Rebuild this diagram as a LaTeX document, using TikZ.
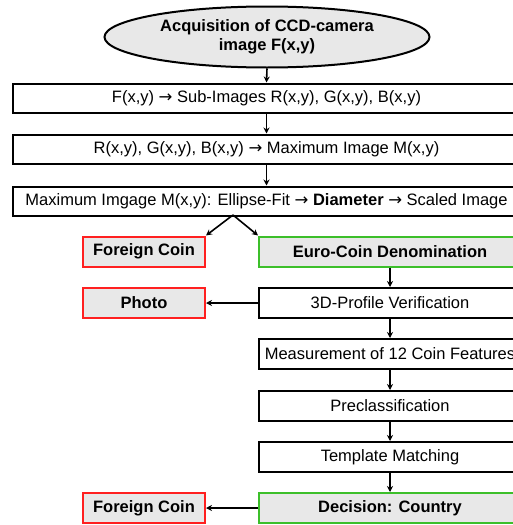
\documentclass[tikz,border=0pt]{standalone}
\usepackage{fontspec}
\setmainfont{Liberation Sans}
\newfontfamily\arrfont{DejaVu Sans}
\newcommand{\rarr}{{\arrfont\char"2192}}
\usetikzlibrary{shapes.geometric,arrows.meta}
\definecolor{boxgrey}{HTML}{E8E8E8}
\definecolor{redb}{HTML}{FF2020}
\definecolor{greenb}{HTML}{3CBF2A}
\begin{document}
\begin{tikzpicture}[x=1pt,y=-1pt,
  every node/.style={font=\fontsize{16.5}{19}\selectfont, inner sep=0pt, text=black},
  wide/.style={draw=black, line width=2pt, fill=white, minimum width=507pt, minimum height=29pt},
  plain/.style={draw=black, line width=2pt, fill=white, minimum width=262pt, minimum height=30pt},
  good/.style={draw=greenb, line width=2pt, fill=boxgrey, minimum width=262pt, minimum height=30pt, font=\fontsize{16.5}{19}\selectfont\bfseries},
  bad/.style={draw=redb, line width=2pt, fill=boxgrey, minimum width=122pt, minimum height=30pt, font=\fontsize{16.5}{19}\selectfont\bfseries},
  arr/.style={-{Stealth[length=6pt,width=6pt]}, line width=1.6pt, black}]
\useasboundingbox (0,0) rectangle (513,525);
\clip (0,0) rectangle (513,525);
\node[ellipse, draw=black, line width=2pt, fill=boxgrey, minimum width=325pt, minimum height=61pt, align=center, font=\fontsize{16.5}{19}\selectfont\bfseries] (ell) at (267,37) {Acquisition of CCD-camera\\image F(x,y)};
\node[wide] (b1) at (266.5,98) {F(x,y) \rarr{} Sub-Images R(x,y), G(x,y), B(x,y)};
\node[wide] (b2) at (266.5,149) {R(x,y), G(x,y), B(x,y) \rarr{} Maximum Image M(x,y)};
\node[wide] (b3) at (266.5,201) {Maximum Imgage M(x,y): Ellipse-Fit \rarr{} \textbf{Diameter} \rarr{} Scaled Image};
\node[bad] (fc1) at (144,251.5) {Foreign Coin};
\node[good] (euro) at (390,251.5) {Euro-Coin Denomination};
\node[bad] (photo) at (144,303) {Photo};
\node[plain] (prof) at (390,303) {3D-Profile Verification};
\node[plain] (meas) at (390,354) {Measurement of 12 Coin Features};
\node[plain] (pre) at (390,406) {Preclassification};
\node[plain] (tmpl) at (390,457) {Template Matching};
\node[good] (dec) at (390,508) {Decision: Country};
\node[bad] (fc2) at (144,508) {Foreign Coin};
\coordinate (split) at (233,215);
\draw[arr] (ell.south) -- (b1.north);
\draw[arr] (b1.south) -- (b2.north);
\draw[arr] (b2.south) -- (b3.north);
\draw[arr] (split) -- (fc1.north east);
\draw[arr] (split) -- (euro.north west);
\draw[arr] (euro) -- (prof);
\draw[arr] (prof) -- (photo);
\draw[arr] (prof) -- (meas);
\draw[arr] (meas) -- (pre);
\draw[arr] (pre) -- (tmpl);
\draw[arr] (tmpl) -- (dec);
\draw[arr] (dec) -- (fc2);
\end{tikzpicture}
\end{document}
